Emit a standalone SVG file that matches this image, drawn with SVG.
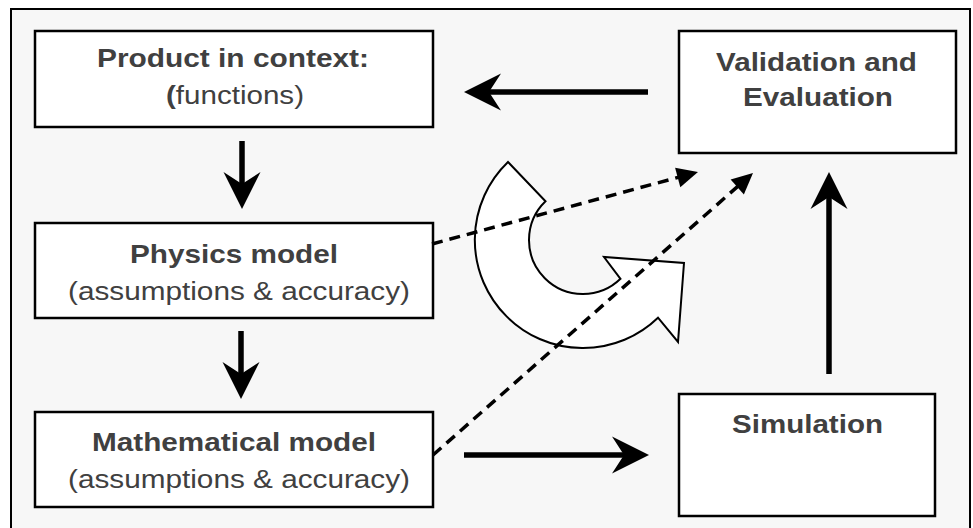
<svg xmlns="http://www.w3.org/2000/svg" width="973" height="528" viewBox="0 0 973 528">
<style>
.box{fill:#ffffff;stroke:#000000;stroke-width:2.5}
.t{font-family:"Liberation Sans",Arial,sans-serif;font-size:25px;fill:#404040;text-anchor:middle}
.b{font-weight:bold}
.solid{stroke:#000000;stroke-width:5.5;fill:none;marker-end:url(#head)}
.dash{stroke:#000000;stroke-width:3.5;fill:none;stroke-dasharray:11 7;marker-end:url(#dhead)}
</style>
<defs>
<marker id="head" markerUnits="userSpaceOnUse" viewBox="-40 -20 42 40" refX="-22" refY="0" markerWidth="42" markerHeight="40" orient="auto">
<path d="M0,0 L-37,-18.5 L-25,0 L-37,18.5 Z" fill="#000000"/>
</marker>
<marker id="dhead" markerUnits="userSpaceOnUse" viewBox="-24 -12 26 24" refX="-18" refY="0" markerWidth="26" markerHeight="24" orient="auto">
<path d="M0,0 L-21,-10 L-21,10 Z" fill="#000000"/>
</marker>
</defs>
<rect x="0" y="0" width="973" height="528" fill="#ffffff"/>
<rect id="frame" x="11" y="9" width="959" height="530" fill="#f7f7f7" stroke="#000000" stroke-width="2"/>

<g id="cycle">
<path d="M508,162 A108,108 0 0 0 506.6,316.4 A108,108 0 0 0 658,317.7 L678,342 L684,263 L604,257 L620.5,278.8 A54,54 0 0 1 544.8,278.2 A54,54 0 0 1 545.5,201.2 Z" fill="#ffffff" stroke="#000000" stroke-width="2"/>
</g>

<g id="product">
<rect class="box" x="35" y="31" width="398" height="96"/>
<text class="t b" x="233" y="67" textLength="272" lengthAdjust="spacingAndGlyphs">Product in context:</text>
<text class="t" x="235" y="104" textLength="138" lengthAdjust="spacingAndGlyphs"><tspan class="b">(</tspan>functions)</text>
</g>

<g id="physics">
<rect class="box" x="35" y="223" width="398" height="95"/>
<text class="t b" x="234" y="263" textLength="208" lengthAdjust="spacingAndGlyphs">Physics model</text>
<text class="t" x="239" y="300" textLength="342" lengthAdjust="spacingAndGlyphs">(assumptions &amp; accuracy)</text>
</g>

<g id="math">
<rect class="box" x="35" y="412" width="398" height="95"/>
<text class="t b" x="234" y="451" textLength="284" lengthAdjust="spacingAndGlyphs">Mathematical model</text>
<text class="t" x="239" y="488" textLength="342" lengthAdjust="spacingAndGlyphs">(assumptions &amp; accuracy)</text>
</g>

<g id="validation">
<rect class="box" x="679" y="31" width="277" height="122"/>
<text class="t b" x="816.5" y="71" textLength="201" lengthAdjust="spacingAndGlyphs">Validation and</text>
<text class="t b" x="818" y="106" textLength="150" lengthAdjust="spacingAndGlyphs">Evaluation</text>
</g>

<g id="simulation">
<rect class="box" x="679" y="394" width="256" height="122"/>
<text class="t b" x="807.5" y="433" textLength="151" lengthAdjust="spacingAndGlyphs">Simulation</text>
</g>

<g id="connectors">
<line class="solid" x1="648" y1="92" x2="486" y2="92"/>
<line class="solid" x1="242" y1="141" x2="242" y2="187"/>
<line class="solid" x1="241" y1="331" x2="241" y2="377"/>
<line class="solid" x1="829" y1="374" x2="829" y2="194"/>
<line class="solid" x1="464" y1="455" x2="627" y2="455"/>
<line class="dash" x1="432" y1="244" x2="680.6" y2="176.7"/>
<line class="dash" x1="433" y1="455" x2="739.5" y2="184.9"/>
</g>
</svg>
